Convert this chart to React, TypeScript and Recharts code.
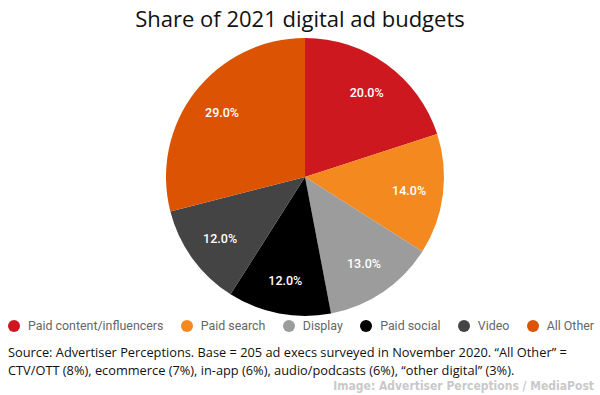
import React from 'react';
import { PieChart, Pie, Cell, Legend } from 'recharts';

const categories = ['Paid content/influencers', 'Paid search', 'Display', 'Paid social', 'Video', 'All Other'];
const shares = [20, 14, 13, 12, 12, 29];
const COLORS = ['#CD1820', '#F48A1F', '#9C9C9C', '#000000', '#444444', '#DB5303'];

const TITLE = 'Share of 2021 digital ad budgets';
const SOURCE = 'Source: Advertiser Perceptions. Base = 205 ad execs surveyed in November 2020. \u201CAll Other\u201D = CTV/OTT (8%), ecommerce (7%), in-app (6%), audio/podcasts (6%), \u201Cother digital\u201D (3%).';
const CREDIT = 'Image: Advertiser Perceptions / MediaPost';

const data = categories.map((name, i) => ({ name, value: shares[i] }));

const RADIAN = Math.PI / 180;

// percentage labels sit at ~3/4 of the radius, like the original
const renderLabel = (props: any) => {
    const { cx, cy, midAngle, outerRadius, percent } = props;
    const r = outerRadius * 0.755;
    const x = cx + r * Math.cos(-midAngle * RADIAN);
    const y = cy + r * Math.sin(-midAngle * RADIAN);
    return (
        <text
            x={x}
            y={y}
            fill="#ffffff"
            textAnchor="middle"
            dominantBaseline="central"
            fontFamily="Roboto, sans-serif"
            fontSize={12.5}
            fontWeight={500}
        >
            {(percent * 100).toFixed(1)}%
        </text>
    );
};

// legend keeps the data order (recharts would sort it by name)
const renderLegend = () => (
    <div
        style={{
            display: 'flex',
            justifyContent: 'space-between',
            alignItems: 'center',
            padding: '0 6px 0 8px',
            fontFamily: 'Roboto, sans-serif',
            fontSize: 12.4,
            color: '#666666',
        }}
    >
        {categories.map((name, i) => (
            <div key={name} style={{ display: 'flex', alignItems: 'center' }}>
                <span
                    style={{
                        width: 12,
                        height: 12,
                        borderRadius: '50%',
                        background: COLORS[i],
                        display: 'inline-block',
                        marginRight: 8,
                    }}
                />
                <span>{name}</span>
            </div>
        ))}
    </div>
);

const App: React.FC = () => {
    return (
        <div
            style={{
                position: 'absolute',
                left: 0,
                top: 0,
                width: 600,
                height: 395,
                background: '#ffffff',
                overflow: 'hidden',
            }}
        >
            <div
                style={{
                    position: 'absolute',
                    top: 0,
                    width: 600,
                    textAlign: 'center',
                    fontFamily: '"Open Sans", sans-serif',
                    fontSize: 22,
                    lineHeight: '36px',
                    color: '#111111',
                }}
            >
                {TITLE}
            </div>

            <PieChart width={600} height={340} style={{ position: 'absolute', top: 0, left: 0 }}>
                <Pie
                    data={data}
                    dataKey="value"
                    nameKey="name"
                    cx={300}
                    cy={172}
                    outerRadius={139}
                    startAngle={90}
                    endAngle={-270}
                    stroke="none"
                    label={renderLabel}
                    labelLine={false}
                    isAnimationActive={false}
                >
                    {data.map((_, index) => (
                        <Cell key={`cell-${index}`} fill={COLORS[index % COLORS.length]} />
                    ))}
                </Pie>
                <Legend
                    content={renderLegend}
                    wrapperStyle={{ top: 318, left: 0, width: 600 }}
                />
            </PieChart>

            <div
                style={{
                    position: 'absolute',
                    top: 343,
                    left: 8,
                    width: 590,
                    fontFamily: '"Open Sans", sans-serif',
                    fontSize: 12.8,
                    lineHeight: '18px',
                    color: '#111111',
                }}
            >
                {SOURCE}
            </div>

            <div
                style={{
                    position: 'absolute',
                    top: 379,
                    right: 6,
                    fontFamily: '"Liberation Sans Narrow", "DejaVu Sans Condensed", sans-serif',
                    fontWeight: 700,
                    fontSize: 12,
                    lineHeight: '14px',
                    color: '#c9c9c9',
                }}
            >
                {CREDIT}
            </div>
        </div>
    );
};

export default App;
